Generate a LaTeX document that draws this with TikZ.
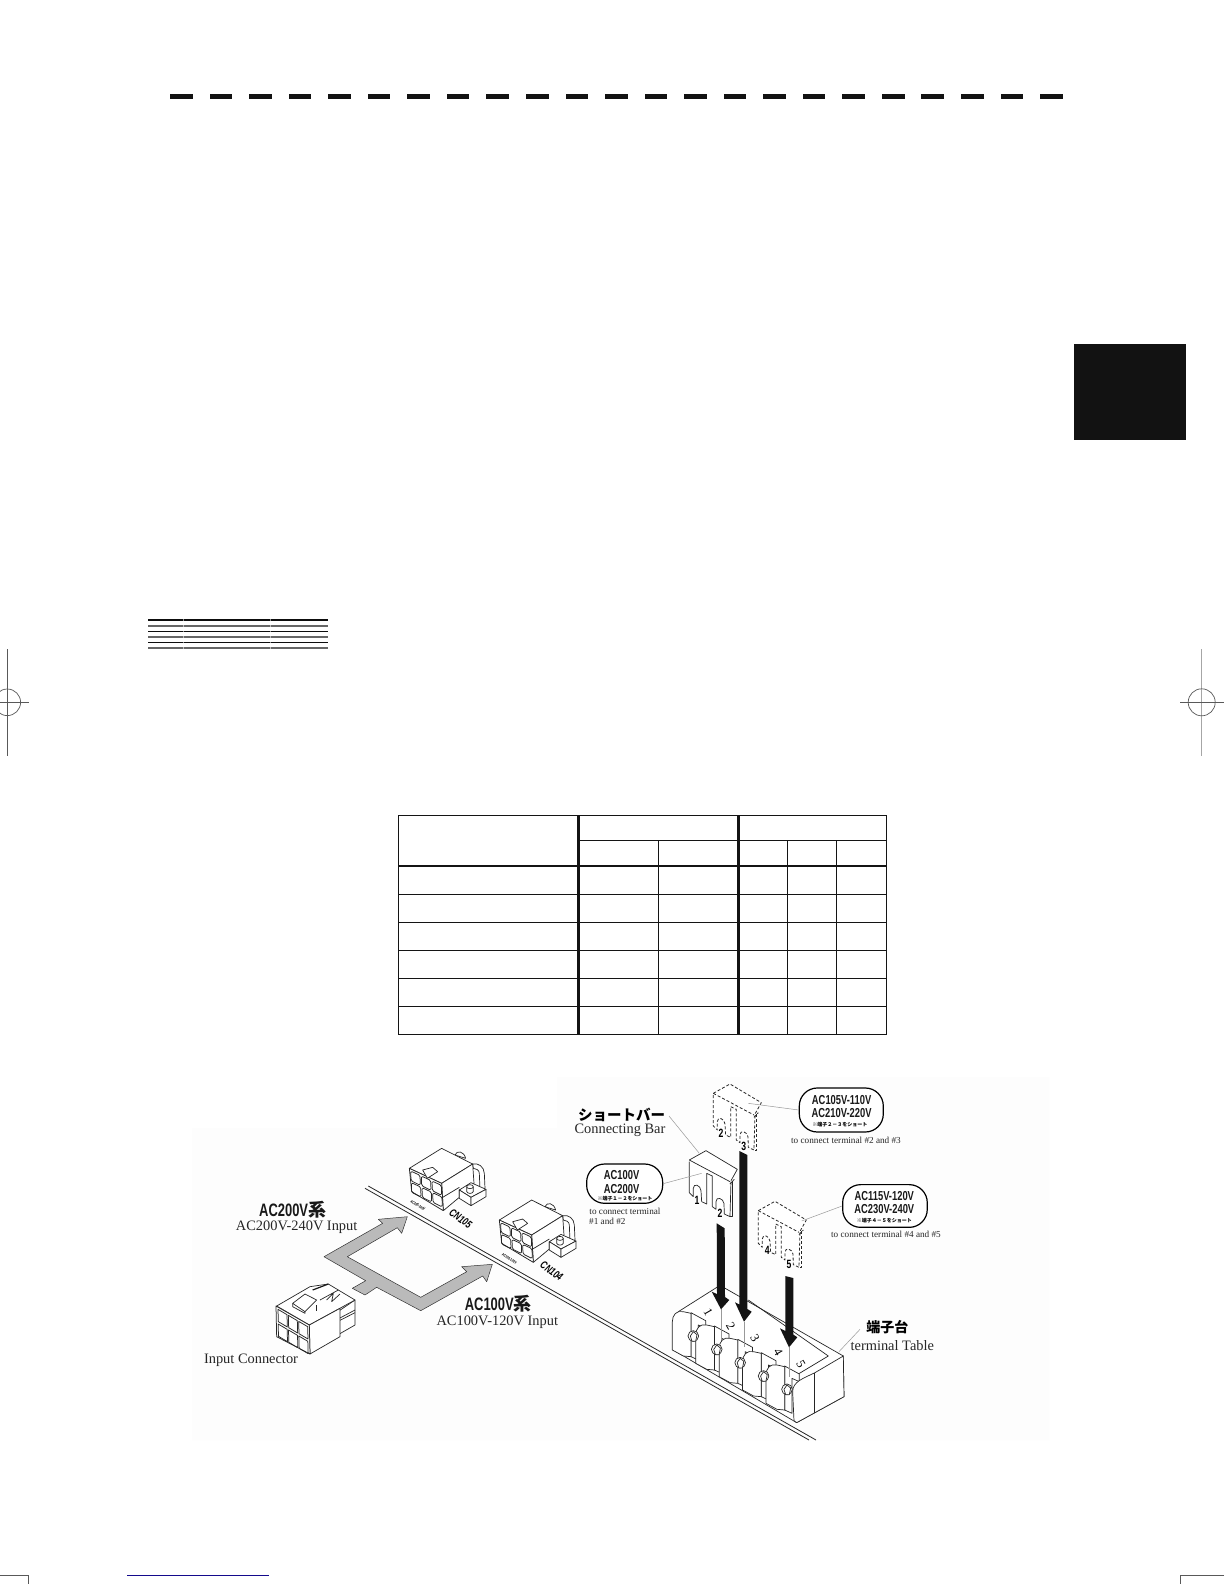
\documentclass[tikz,border=0pt]{standalone}
\usepackage{fontspec}
\setmainfont{Liberation Serif}
\newfontfamily\jpf{Noto Sans CJK JP}
\newfontfamily\cond[FakeStretch=0.72]{Liberation Sans}
\tikzset{
  zA/.style={shift={(190,1060)},x=0.3333pt,y=-0.3333pt},
  zB/.style={shift={(550,1060)},x=0.3333pt,y=-0.3333pt},
  zC/.style={shift={(640,1250)},x=0.3333pt,y=-0.3333pt},
  thinrule/.style={line width=0.9pt,color=black!92},
  thickrule/.style={line width=2.6pt,color=black!92},
  cl/.style={line width=0.7pt,color=black!85,line join=round},
  dl/.style={line width=0.8pt,color=black!85,line join=round,dash pattern=on 3pt off 2pt},
  cellline/.style={line width=0.75pt,color=black!85,line join=round},
  leader/.style={line width=0.5pt,color=black!40},
  crop/.style={line width=0.7pt,color=black!65},
  ovalbox/.style={draw,line width=1.2pt,rounded corners=18pt,fill=white,inner sep=0pt},
  ovaltext/.style={font=\cond\bfseries\fontsize{13}{13}\selectfont,inner sep=0pt,color=black!90},
  jptiny/.style={font=\jpf\bfseries\fontsize{5}{5}\selectfont,inner sep=0pt},
  toconnect/.style={font=\fontsize{9.2}{9.2}\selectfont,inner sep=0pt,color=black!85},
  label/.style={font=\fontsize{14.4}{14.4}\selectfont,inner sep=0pt,color=black!85},
  headlabel/.style={font=\cond\bfseries\fontsize{18}{18}\selectfont,inner sep=0pt,color=black!90},
  barnum/.style={font=\cond\bfseries\fontsize{12}{12}\selectfont,inner sep=0pt},
  cnlabel/.style={font=\cond\bfseries\itshape\fontsize{11}{11}\selectfont,inner sep=0pt,rotate=-36},
  cntiny/.style={font=\cond\bfseries\fontsize{4}{4}\selectfont,inner sep=0pt,rotate=-32},
  termnum/.style={font=\fontsize{12.5}{12.5}\selectfont,inner sep=0pt,rotate=-60},
  blackarrow/.style={fill=black!92,draw=none},
}
\newcommand{\socketshape}[2]{%
\begin{scope}[shift={(400+#1,1140+#2)},x=0.3333pt,y=-0.3333pt]
  \draw[cl,fill=white] (218,72) .. controls (235,68) and (252,80) .. (253,100) -- (255,145) -- (240,150) -- (238,100) .. controls (238,90) and (228,85) .. (220,85) -- cycle;
  \draw[cl,fill=white] (165,45) .. controls (170,30) and (192,33) .. (197,55) -- cycle;
  \draw[cl,fill=white] (28,85) -- (125,25) -- (218,72) -- (125,130) -- cycle;
  \draw[cl,fill=white] (125,130) -- (218,72) -- (222,130) -- (178,150) -- (178,172) -- (130,212) -- cycle;
  \draw[cl] (128,172) -- (178,142);
  \draw[cellline,fill=white] (28,85) -- (125,130) -- (130,212) -- (35,155) -- cycle;
  \foreach \i in {0,1,2}{\foreach \j in {0,1}{
    \draw[cellline,rounded corners=1.5pt]
      ({32+\i*32+\j*2},{93+\i*15+\j*35}) -- ({60+\i*32+\j*2},{106+\i*15+\j*35})
      -- ({61+\i*32+\j*2},{136+\i*15+\j*35}) -- ({33+\i*32+\j*2},{122+\i*15+\j*35}) -- cycle;
  }}
  \draw[cl,fill=white] (68,90) -- (98,82) -- (113,95) -- (82,115) -- cycle;
  \draw[cl,fill=white] (178,150) -- (213,128) -- (258,148) -- (213,172) -- cycle;
  \draw[cl,fill=white] (178,150) -- (213,172) -- (213,197) -- (178,175) -- cycle;
  \draw[cl,fill=white] (213,172) -- (258,148) -- (258,170) -- (213,197) -- cycle;
  \draw[cl,fill=white] (200,140) -- (200,155) .. controls (204,162) and (216,162) .. (220,155) -- (220,140);
  \draw[cl,fill=white] (210,140) ellipse (10 and 6);
\end{scope}}
\newcommand{\barshape}[3]{%
\begin{scope}[zB,shift={(#1,#2)}]
  \begin{scope}[#3]
  \fill[white] (418,300) -- (468,272) -- (562,328) -- (548,365) -- (548,470) -- (418,400) -- cycle;
  \draw (418,300) -- (468,272) -- (562,328) -- (543,362);
  \draw (418,300) -- (540,365);
  \draw (418,305) -- (418,398) -- (430,410) -- (430,385) .. controls (430,368) and (452,375) .. (453,392) -- (455,425) -- (470,432) -- (470,340) -- (487,348) -- (487,440) -- (498,448) -- (498,425) .. controls (498,408) and (520,415) .. (522,430) -- (523,462) -- (540,470) -- (543,365);
  \draw (548,362) -- (548,470) -- (540,470);
  \draw (540,372) -- (553,358);
  \end{scope}
\end{scope}}
\newcommand{\termtab}[1]{%
\begin{scope}[shift={({70.25*#1},{40*#1})}]
  \draw[cl,fill=white] (153,188) -- (197,212) -- (197,235) -- (175,225) -- (175,330) -- (153,320) -- cycle;
  \draw[cl,fill=white] (97,300) -- (97,215) .. controls (97,195) and (110,180) .. (130,185) -- (153,190) -- (153,320) -- (130,318) -- cycle;
\end{scope}}
\newcommand{\termscrew}[1]{%
\begin{scope}[shift={({70.25*#1},{40*#1})}]
  \draw[cl,fill=white] (160,258) circle (16);
  \draw[cl,fill=white] (151,258) -- (160,245) -- (171,254) -- (167,274) -- (156,274) -- cycle;
\end{scope}}
\begin{document}
\begin{tikzpicture}[x=1pt,y=-1pt]
\useasboundingbox (0,0) rectangle (1224,1584);
\fill[white] (0,0) rectangle (1224,1584);
% top dashed rule and tab block
\foreach \i in {0,...,22}{\fill[black!93] ({170+39.55*\i},94) rectangle ++(22.6,5);}
\fill[black!93] (1074,344) rectangle (1186,440);
% heading stripes
\foreach \yy in {620,631.3,642.3}{\draw[line width=1.2pt,black!95] (148.3,\yy) -- (328,\yy);}
\foreach \yy in {625.7,637,648}{\draw[line width=1.7pt,black!60] (148.3,\yy) -- (328,\yy);}
\foreach \xx in {183,270}{\draw[line width=0.4pt,white,opacity=0.55] (\xx,618) -- (\xx,650);}
% registration marks
\draw[crop] (7.3,649) -- (7.3,755.7);
\draw[crop] (0,702.3) -- (28.7,702.3);
\draw[crop] (7.3,702.3) circle (13.3);
\draw[line width=0.8pt,black!35] (1201.7,649) -- (1201.7,755.7);
\draw[crop] (1180,702.3) -- (1224,702.3);
\draw[crop] (1201.7,702.3) circle (13.5);
\draw[crop] (0,1575.3) -- (28.7,1575.3) -- (28.7,1584);
\draw[crop] (1224,1575.3) -- (1180.3,1575.3) -- (1180.3,1584);
\draw[line width=0.8pt,color={rgb,255:red,20;green,10;blue,140}] (127,1575.3) -- (268.7,1575.3);
% table
\draw[thinrule] (398.3,815.3) rectangle (886.3,1034.3);
\draw[thinrule] (578.7,840.3) -- (886.3,840.3);
\foreach \yy in {894.3,922.3,950.3,978.3,1006.3}{\draw[thinrule] (398.3,\yy) -- (886.3,\yy);}
\draw[line width=1.8pt,black!92] (398.3,865.7) -- (886.3,865.7);
\foreach \xx in {658.3,787.3,836.3}{\draw[thinrule] (\xx,840.3) -- (\xx,1034.3);}
\foreach \xx in {578.7,738.3}{\draw[thickrule] (\xx,815.3) -- (\xx,1034.3);}
% picture background
\fill[black!0.8] (192,1128) -- (557,1128) -- (557,1077) -- (1049,1077) -- (1049,1440) -- (192,1440) -- cycle;
% board edge
\draw[line width=0.8pt,black!85] (368.3,1186) -- (816,1440);
\draw[line width=0.8pt,black!85] (365,1188.3) -- (809,1440);
% sockets
\socketshape{0}{0}
\socketshape{90}{51.7}
% grey routing arrow
\draw[line width=0.5pt,black!80,fill=black!27,line join=round]
  (324,1256.7) -- (382.7,1223.3) -- (378.3,1219.3) -- (407.3,1216.7) -- (401.7,1233.3) -- (397.3,1227.7)
  -- (347.3,1256.7) -- (420.7,1297.3) -- (466.7,1271.7) -- (461.7,1266.7) -- (492.3,1264.3) -- (486.7,1281.7)
  -- (482.7,1276) -- (420.7,1310.7) -- (376.7,1287.3) -- (365,1295) -- (352.3,1288.3) -- (365.7,1280.7) -- cycle;
% input connector
\begin{scope}[shift={(260,1270)},x=0.3333pt,y=-0.3333pt]
  \draw[cl,fill=white] (238,122) -- (285,90) -- (285,165) -- (238,192) -- cycle;
  \draw[cl] (238,145) -- (285,120) (238,152) -- (285,128);
  \draw[cl,fill=white] (50,108) -- (150,50) -- (205,42) -- (285,90) -- (148,165) -- cycle;
  \draw[cl,fill=white] (148,165) -- (240,115) -- (240,200) -- (150,252) -- cycle;
  \draw[cellline,fill=white] (48,108) -- (148,165) -- (150,252) -- (50,200) -- cycle;
  \foreach \i in {0,1,2}{\foreach \j in {0,1}{
    \draw[cellline]
      ({54+\i*31+\j*0.5},{118+\i*18+\j*44}) -- ({81+\i*31+\j*0.5},{134+\i*18+\j*44})
      -- ({82+\i*31+\j*0.5},{171+\i*18+\j*44}) -- ({55+\i*31+\j*0.5},{155+\i*18+\j*44}) -- cycle;
  }}
  \draw[cl,fill=white] (98,100) -- (135,72) -- (170,90) -- (135,125) -- cycle;
  \draw[cl] (98,100) -- (98,110) -- (135,130) -- (135,125);
  \draw[line width=1.2pt,black!90] (158,60) -- (205,42);
  \draw[cl] (180,90) -- (235,60) (200,90) -- (220,70) -- (215,95) -- (240,72);
  \draw[cl] (170,105) -- (170,122);
\end{scope}
% terminal table
\begin{scope}[zC]
  \draw[cl,fill=white] (115,185) -- (240,106) -- (610,318) -- (612,440) -- (470,518) -- (460,512) -- (100,300) -- cycle;
  \draw[cl] (325,150) -- (565,318) -- (470,375);
  \foreach \n in {0,1,2,3,4}{\termtab{\n}}
  \draw[cl,fill=white] (462,512) -- (458,425) .. controls (458,395) and (490,385) .. (525,368) -- (610,318) -- (612,440) -- (470,518) -- cycle;
  \draw[cl] (523,368) -- (523,490);
  \foreach \n in {0,1,2,3,4}{\termscrew{\n}}
  \node[termnum] (n1) at (205,187) {1};
  \node[termnum] (n2) at (272,228) {2};
  \node[termnum] (n3) at (345,265) {3};
  \node[termnum] (n4) at (415,307) {4};
  \node[termnum] (n5) at (483,342) {5};
  \coordinate (tip1) at (243,178);
  \coordinate (tip2) at (312,215);
  \coordinate (tip3) at (447,292);
  \coordinate (drop1) at (243,270);
  \coordinate (drop2) at (312,292);
  \coordinate (drop3) at (447,380);
  \coordinate (termcorner) at (597,305);
  \node[font=\jpf\bfseries\fontsize{14}{14}\selectfont,inner sep=0pt] (termjp) at (742,230) {端子台};
  \node[label] (termen) at (757,287) {terminal Table};
  \draw[leader] (660,238) -- (termcorner);
\end{scope}
\draw[leader] (tip1) -- (drop1) (tip2) -- (drop2) (tip3) -- (drop3);
% connecting bars
\barshape{0}{0}{cl}
\barshape{72}{-200}{dl}
\barshape{207}{152}{dl}
% labels on the left
\begin{scope}[zA]
  \node[headlabel] (h200) at (308,448) {AC200V{\jpf\bfseries 系}};
  \node[label] (t200) at (320,503) {AC200V-240V Input};
  \node[headlabel] (h100) at (925,732) {AC100V{\jpf\bfseries 系}};
  \node[label] (t100) at (922,787) {AC100V-120V Input};
  \node[label] (tinput) at (183,902) {Input Connector};
  \node[cnlabel] (cn105) at (812,476) {CN105};
  \node[cntiny] (v200) at (684,436) {AC200-240V};
  \node[cnlabel] (cn104) at (1085,633) {CN104};
  \node[cntiny] (v100) at (958,596) {AC100-120V};
\end{scope}
% labels on the right
\begin{scope}[zB]
  \node[font=\jpf\bfseries\fontsize{14.5}{14.5}\selectfont,inner sep=0pt] (barjp) at (215,165) {ショートバー};
  \node[label] (baren) at (210,212) {Connecting Bar};
  \coordinate (barpt) at (448,280);
  \draw[leader] (357,168) -- (barpt);
  \node[ovalbox,minimum width=76pt,minimum height=39.3pt] (ovalA) at (224,371) {};
  \node[ovaltext] at (215,345) {AC100V};
  \node[ovaltext] at (215,388) {AC200V};
  \node[jptiny] at (225,415) {※端子１－２をショート};
  \node[toconnect] (ta) at (225,453) {to connect terminal};
  \node[toconnect] (tb) at (172,483) {\#1 and \#2};
  \coordinate (ptA) at (455,340);
  \draw[leader] (ovalA.east) -- (ptA);
  \node[ovalbox,minimum width=84pt,minimum height=44pt] (ovalB) at (874,150) {};
  \node[ovaltext] at (875,120) {AC105V-110V};
  \node[ovaltext] at (875,160) {AC210V-220V};
  \node[jptiny] at (870,195) {※端子２－３をショート};
  \node[toconnect] (tc) at (888,240) {to connect terminal \#2 and \#3};
  \coordinate (ptB) at (595,130);
  \draw[leader] (ovalB.west) -- (ptB);
  \node[ovalbox,minimum width=84.6pt,minimum height=42.7pt] (ovalC) at (1005,438) {};
  \node[ovaltext] at (1003,408) {AC115V-120V};
  \node[ovaltext] at (1003,448) {AC230V-240V};
  \node[jptiny] at (1003,481) {※端子４－５をショート};
  \node[toconnect] (td) at (1008,522) {to connect terminal \#4 and \#5};
  \coordinate (ptC) at (755,483);
  \draw[leader] (ovalC.west) -- (ptC);
  \node[barnum] (b1) at (441,420) {1};
  \node[barnum] (b2) at (510,460) {2};
  \node[barnum] (d2) at (513,220) {2};
  \node[barnum] (d3) at (581,260) {3};
  \node[barnum] (e4) at (652,572) {4};
  \node[barnum] (e5) at (717,612) {5};
\end{scope}
% black arrows
\fill[blackarrow] (716.7,1223.3) -- (724.7,1228.3) -- (725,1297) -- (729.3,1300) -- (721,1309.3) -- (711.7,1291.7) -- (717,1294) -- cycle;
\fill[blackarrow] (739.3,1151) -- (747.3,1155) -- (747.3,1309) -- (751.7,1311.7) -- (744,1321.7) -- (735,1302.3) -- (739.3,1304.5) -- cycle;
\fill[blackarrow] (785.3,1276) -- (793.3,1278) -- (793.3,1334.5) -- (797.3,1337.3) -- (789,1347.3) -- (780,1328.3) -- (785.3,1331) -- cycle;
\end{tikzpicture}
\end{document}
